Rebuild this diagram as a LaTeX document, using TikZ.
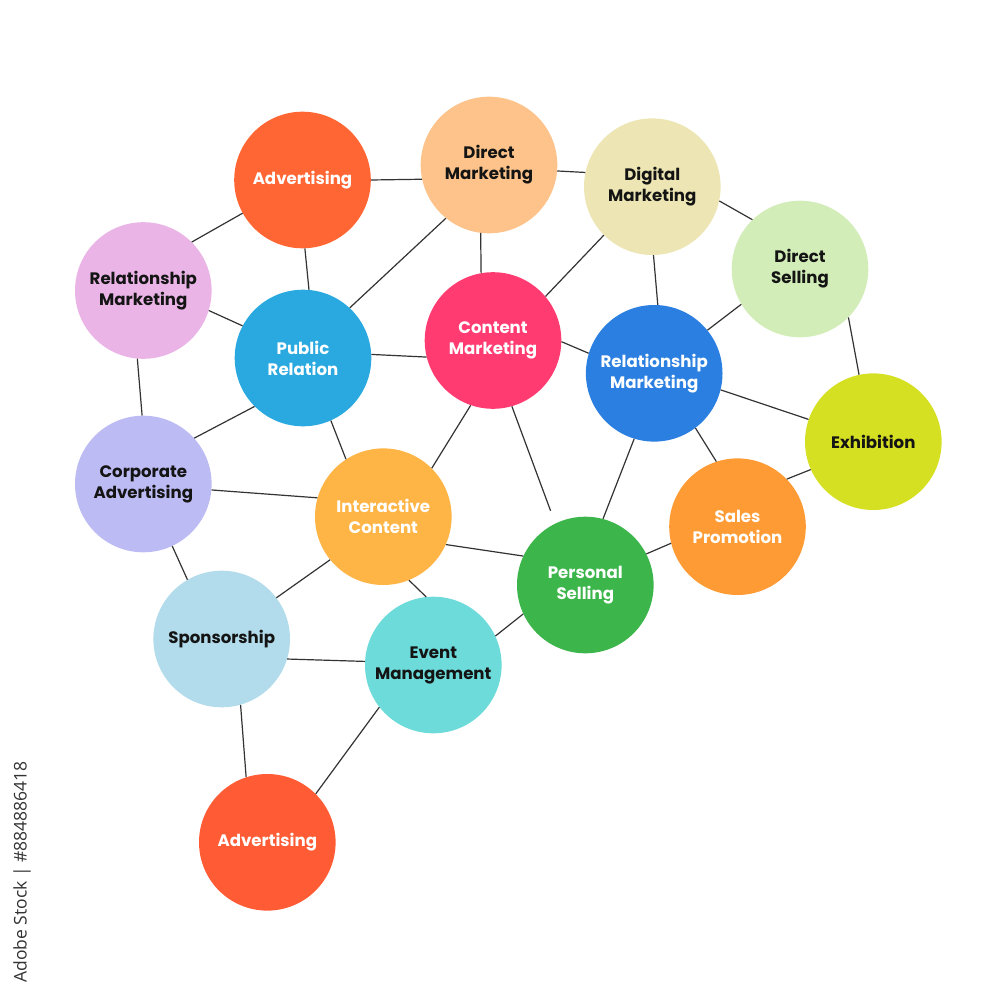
\documentclass[tikz,border=0pt]{standalone}
\usepackage{fontspec}
\setmainfont{Poppins}
\newfontfamily\wmfont{Open Sans}
\definecolor{cAdvA}{HTML}{FF6633}
\definecolor{cDirM}{HTML}{FDC38A}
\definecolor{cDigM}{HTML}{EDE6B4}
\definecolor{cDirS}{HTML}{D2EDB8}
\definecolor{cRelL}{HTML}{EAB5E6}
\definecolor{cPubR}{HTML}{29A9E0}
\definecolor{cConM}{HTML}{FF3B71}
\definecolor{cRelB}{HTML}{2A7FE0}
\definecolor{cExh}{HTML}{D6E022}
\definecolor{cCorp}{HTML}{BDBBF4}
\definecolor{cInt}{HTML}{FFB545}
\definecolor{cSal}{HTML}{FF9B35}
\definecolor{cPer}{HTML}{3CB54A}
\definecolor{cSpo}{HTML}{B2DBEB}
\definecolor{cEve}{HTML}{6CDBDA}
\definecolor{cAdvB}{HTML}{FF5B34}
\definecolor{lineC}{HTML}{333333}
\tikzset{
  bub/.style={circle, minimum size=136.6pt, inner sep=0pt, align=center,
    font=\fontsize{16.6}{21}\selectfont\bfseries},
  wt/.style={bub, text=white},
  bt/.style={bub, text=black!92},
  link/.style={draw=lineC, line width=1.2pt}
}
\begin{document}
\begin{tikzpicture}[x=1pt,y=-1pt]
\useasboundingbox (0,0) rectangle (1000,1000);
\fill[white] (0,0) rectangle (1000,1000);
% bubbles
\node[wt, fill=cAdvA] (nAdvA) at (302.5,180) {Advertising};
\node[bt, fill=cDirM] (nDirM) at (489,165) {Direct\\Marketing};
\node[bt, fill=cDigM] (nDigM) at (652.3,186.7) {Digital\\Marketing};
\node[bt, fill=cDirS] (nDirS) at (800,269) {Direct\\Selling};
\node[bt, fill=cRelL] (nRelL) at (143.3,290.5) {Relationship\\Marketing};
\node[wt, fill=cPubR] (nPubR) at (303,358) {Public\\Relation};
\node[wt, fill=cConM] (nConM) at (493,340.5) {Content\\Marketing};
\node[wt, fill=cRelB] (nRelB) at (654.2,373.3) {Relationship\\Marketing};
\node[bt, fill=cExh] (nExh) at (873.3,441.7) {Exhibition};
\node[bt, fill=cCorp] (nCorp) at (143.3,484) {Corporate\\Advertising};
\node[wt, fill=cInt] (nInt) at (383.3,516.7) {Interactive\\Content};
\node[wt, fill=cSal] (nSal) at (737.5,526.7) {Sales\\Promotion};
\node[wt, fill=cPer] (nPer) at (585.3,585) {Personal\\Selling};
\node[bt, fill=cSpo] (nSpo) at (221.7,639) {Sponsorship};
\node[bt, fill=cEve] (nEve) at (433.3,665) {Event\\Management};
\node[wt, fill=cAdvB] (nAdvB) at (267.3,842.3) {Advertising};
% links
\foreach \a/\aa/\b/\bb in {
  AdvA/0/DirM/192, AdvA/209.1/RelL/45.2, AdvA/272.1/PubR/85.5,
  DirM/355.2/DigM/168.2, DirM/231.6/PubR/47.6, DirM/263.3/ConM/100,
  DigM/348.5/DirS/134.9, DigM/225/ConM/40.3, DigM/271.4/RelB/87.9,
  DirS/211.8/RelB/39.4, DirS/315/Exh/102,
  RelL/343.9/PubR/152, RelL/265.8/Corp/91.3,
  PubR/3.1/ConM/194.5, PubR/225.4/Corp/42.4, PubR/294/Int/123,
  ConM/359.5/RelB/163.2, ConM/251.5/Int/45,
  RelB/346.8/Exh/161, RelB/307/Sal/108.8, RelB/253.2/Per/75.4,
  Exh/204.4/Sal/44,
  Corp/355.6/Int/164.7, Corp/295.1/Spo/120.2,
  Int/336.5/Per/155.9, Int/219.2/Spo/37.2, Int/292.3/Eve/96.1,
  Sal/194/Per/27.3, Per/205.8/Eve/25.9,
  Spo/343.7/Eve/177.2, Spo/286.1/AdvB/108, Eve/218.7/AdvB/45.4}
  \draw[link] (n\a.\aa) -- (n\b.\bb);
\draw[link, shorten >=13.5pt] (nConM.286.4) -- (nPer.116);
% stock label
\node[rotate=90, text=black!80, font=\wmfont\fontsize{17.5}{20}\selectfont, inner sep=0pt] (wm) at (22,872) {Adobe Stock | \#884886418};
\end{tikzpicture}
\end{document}
